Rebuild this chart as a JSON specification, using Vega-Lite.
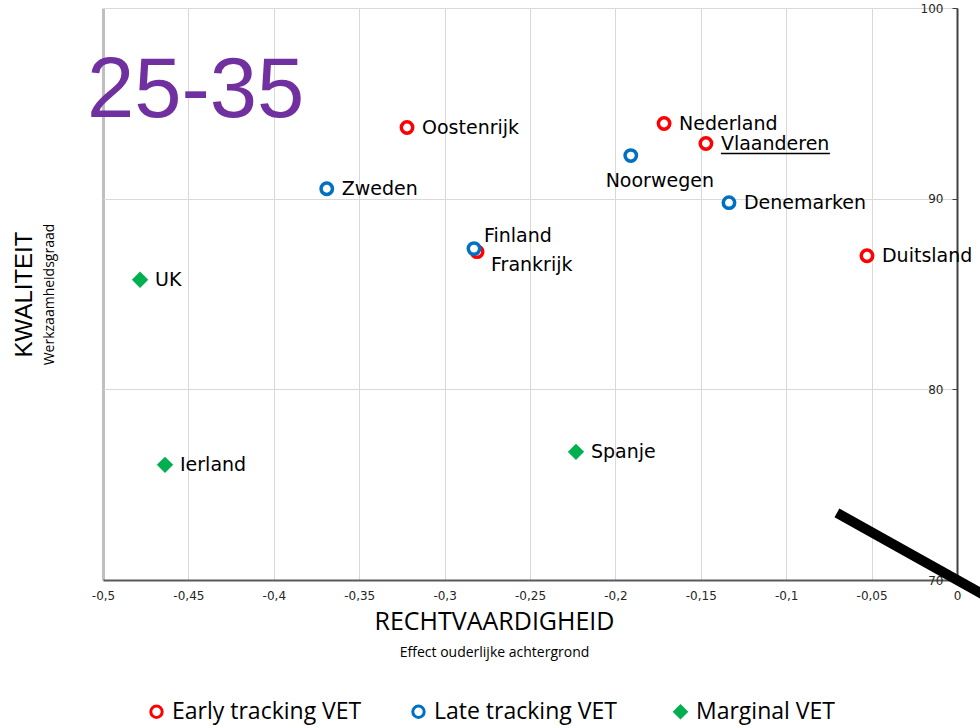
{
  "$schema": "https://vega.github.io/schema/vega-lite/v6.json",
  "width": 854,
  "height": 572,
  "autosize": {"type": "none"},
  "padding": {"left": 103, "top": 8, "right": 23, "bottom": 148},
  "background": "white",
  "config": {"view": {"stroke": null}, "font": "DejaVu Sans"},
  "title": {
    "text": "25-35",
    "font": "Liberation Sans",
    "fontSize": 85,
    "fontWeight": "normal",
    "color": "#7030A0",
    "anchor": "start",
    "frame": "group",
    "orient": "top",
    "baseline": "alphabetic",
    "offset": -200,
    "dx": -16
  },
  "datasets": {
    "countries": [
      {"country": "Oostenrijk", "group": "Early tracking VET", "x": -0.322, "y": 93.73},
      {"country": "Nederland", "group": "Early tracking VET", "x": -0.1715, "y": 93.94},
      {"country": "Vlaanderen", "group": "Early tracking VET", "x": -0.147, "y": 92.89},
      {"country": "Frankrijk", "group": "Early tracking VET", "x": -0.281, "y": 87.22},
      {"country": "Duitsland", "group": "Early tracking VET", "x": -0.0527, "y": 87.01},
      {"country": "Noorwegen", "group": "Late tracking VET", "x": -0.191, "y": 92.26},
      {"country": "Zweden", "group": "Late tracking VET", "x": -0.369, "y": 90.52},
      {"country": "Denemarken", "group": "Late tracking VET", "x": -0.1335, "y": 89.79},
      {"country": "Finland", "group": "Late tracking VET", "x": -0.2828, "y": 87.38},
      {"country": "UK", "group": "Marginal VET", "x": -0.4783, "y": 85.75},
      {"country": "Ierland", "group": "Marginal VET", "x": -0.4637, "y": 76.04},
      {"country": "Spanje", "group": "Marginal VET", "x": -0.2231, "y": 76.72}
    ],
    "arrow": [{"x1": -0.0703, "y1": 73.52, "x2": 0.0164, "y2": 69.18}]
  },
  "resolve": {"axis": {"x": "independent", "y": "independent"}},
  "layer": [
    {
      "data": {"name": "countries"},
      "mark": {"type": "point", "filled": true, "strokeWidth": 3.5, "opacity": 1},
      "encoding": {
        "x": {
          "field": "x", "type": "quantitative",
          "scale": {"domain": [-0.5, 0], "nice": false, "zero": false},
          "axis": {
            "values": [-0.5, -0.45, -0.4, -0.35, -0.3, -0.25, -0.2, -0.15, -0.1, -0.05, 0],
            "labelExpr": "replace(toString(datum.value), '.', ',')",
            "grid": true,
            "gridColor": {"condition": {"test": "datum.value == -0.5", "value": "#bfbfbf"}, "value": "#d9d9d9"},
            "gridWidth": {"condition": {"test": "datum.value == -0.5", "value": 3}, "value": 1},
            "ticks": false,
            "domainColor": "#595959",
            "domainWidth": 2,
            "labelFont": "DejaVu Sans",
            "labelFontSize": 12,
            "labelColor": "#262626",
            "labelPadding": 10,
            "labelFlush": false,
            "labelOverlap": false,
            "title": "RECHTVAARDIGHEID",
            "titleFont": "Open Sans",
            "titleFontSize": 25,
            "titleFontWeight": "normal",
            "titleColor": "#000000",
            "titleX": 391,
            "titleY": 49,
            "titleBaseline": "alphabetic"
          }
        },
        "y": {
          "field": "y", "type": "quantitative",
          "scale": {"domain": [70, 100], "nice": false, "zero": false},
          "axis": {
            "orient": "left",
            "offset": -854,
            "values": [70, 80, 90, 100],
            "grid": false,
            "domainColor": "#404040",
            "domainWidth": 2,
            "tickColor": "#404040",
            "tickSize": 5,
            "labelFont": "DejaVu Sans",
            "labelFontSize": 12,
            "labelColor": "#262626",
            "labelPadding": 9,
            "labelFlush": false,
            "title": null
          }
        },
        "stroke": {
          "field": "group", "type": "nominal",
          "scale": {"domain": ["Early tracking VET", "Late tracking VET", "Marginal VET"], "range": ["#FF0000", "#0070C0", "#00B050"]},
          "legend": {
            "orient": "none",
            "legendX": 42,
            "legendY": 692,
            "direction": "horizontal",
            "title": null,
            "columns": 3,
            "gridAlign": "all",
            "columnPadding": 44,
            "labelFont": "Open Sans",
            "labelFontSize": 23,
            "labelColor": "#000000",
            "labelOffset": 4,
            "labelLimit": 400,
            "symbolStrokeWidth": 3
          }
        },
        "fill": {
          "field": "group", "type": "nominal",
          "scale": {"domain": ["Early tracking VET", "Late tracking VET", "Marginal VET"], "range": ["#FFFFFF", "#FFFFFF", "#00B050"]}
        },
        "shape": {
          "field": "group", "type": "nominal",
          "scale": {"domain": ["Early tracking VET", "Late tracking VET", "Marginal VET"], "range": ["circle", "circle", "diamond"]}
        },
        "size": {
          "field": "group", "type": "nominal",
          "scale": {"domain": ["Early tracking VET", "Late tracking VET", "Marginal VET"], "range": [130, 130, 90]}
        }
      }
    },
    {
      "data": {"name": "countries"},
      "transform": [{"filter": "datum.country != 'Noorwegen' && datum.country != 'Finland' && datum.country != 'Frankrijk'"}],
      "mark": {"type": "text", "align": "left", "baseline": "middle", "dx": 15, "fontSize": 19, "font": "DejaVu Sans", "color": "#000000"},
      "encoding": {
        "x": {
          "field": "x", "type": "quantitative",
          "scale": {"domain": [-0.5, 0], "nice": false, "zero": false},
          "axis": {
            "orient": "bottom",
            "labels": false, "ticks": false, "domain": false, "grid": false,
            "title": "Effect ouderlijke achtergrond",
            "titleFont": "Open Sans",
            "titleFontSize": 14,
            "titleFontWeight": "normal",
            "titleColor": "#000000",
            "titleX": 391,
            "titleY": 76,
            "titleBaseline": "alphabetic"
          }
        },
        "y": {
          "field": "y", "type": "quantitative",
          "scale": {"domain": [70, 100], "nice": false, "zero": false},
          "axis": {
            "orient": "left",
            "values": [80, 90, 100],
            "labels": false, "ticks": false, "domain": false,
            "grid": true,
            "gridColor": "#d9d9d9",
            "title": "KWALITEIT",
            "titleFont": "Liberation Sans",
            "titleFontSize": 24,
            "titleFontWeight": "normal",
            "titleColor": "#000000",
            "titleX": -72,
            "titleY": 286,
            "titleBaseline": "alphabetic"
          }
        },
        "text": {"field": "country", "type": "nominal"}
      }
    },
    {
      "data": {"name": "countries"},
      "transform": [{"filter": "datum.country == 'Noorwegen'"}],
      "mark": {"type": "text", "align": "center", "baseline": "middle", "dx": 29, "dy": 25, "fontSize": 19, "font": "DejaVu Sans", "color": "#000000"},
      "encoding": {
        "x": {"field": "x", "type": "quantitative", "scale": {"domain": [-0.5, 0], "nice": false, "zero": false}, "axis": null},
        "y": {
          "field": "y", "type": "quantitative",
          "scale": {"domain": [70, 100], "nice": false, "zero": false},
          "axis": {
            "orient": "left",
            "labels": false, "ticks": false, "domain": false, "grid": false,
            "title": "Werkzaamheidsgraad",
            "titleFont": "Open Sans",
            "titleFontSize": 14,
            "titleFontWeight": "normal",
            "titleColor": "#000000",
            "titleX": -50,
            "titleY": 286,
            "titleBaseline": "alphabetic"
          }
        },
        "text": {"field": "country", "type": "nominal"}
      }
    },
    {
      "data": {"name": "countries"},
      "transform": [{"filter": "datum.country == 'Finland'"}],
      "mark": {"type": "text", "align": "left", "baseline": "middle", "dx": 10, "dy": -13, "fontSize": 19, "font": "DejaVu Sans", "color": "#000000"},
      "encoding": {
        "x": {"field": "x", "type": "quantitative", "scale": {"domain": [-0.5, 0], "nice": false, "zero": false}, "axis": null},
        "y": {"field": "y", "type": "quantitative", "scale": {"domain": [70, 100], "nice": false, "zero": false}, "axis": null},
        "text": {"field": "country", "type": "nominal"}
      }
    },
    {
      "data": {"name": "countries"},
      "transform": [{"filter": "datum.country == 'Frankrijk'"}],
      "mark": {"type": "text", "align": "left", "baseline": "middle", "dx": 14, "dy": 13, "fontSize": 19, "font": "DejaVu Sans", "color": "#000000"},
      "encoding": {
        "x": {"field": "x", "type": "quantitative", "scale": {"domain": [-0.5, 0], "nice": false, "zero": false}, "axis": null},
        "y": {"field": "y", "type": "quantitative", "scale": {"domain": [70, 100], "nice": false, "zero": false}, "axis": null},
        "text": {"field": "country", "type": "nominal"}
      }
    },
    {
      "data": {"name": "countries"},
      "transform": [{"filter": "datum.country == 'Vlaanderen'"}],
      "mark": {"type": "rule", "color": "#000000", "strokeWidth": 1.5, "xOffset": 15, "x2Offset": 124, "yOffset": 10},
      "encoding": {
        "x": {"field": "x", "type": "quantitative", "scale": {"domain": [-0.5, 0], "nice": false, "zero": false}, "axis": null},
        "x2": {"field": "x"},
        "y": {"field": "y", "type": "quantitative", "scale": {"domain": [70, 100], "nice": false, "zero": false}, "axis": null}
      }
    },
    {
      "data": {"name": "arrow"},
      "mark": {"type": "rule", "color": "#000000", "strokeWidth": 10, "strokeCap": "butt"},
      "encoding": {
        "x": {"field": "x1", "type": "quantitative", "scale": {"domain": [-0.5, 0], "nice": false, "zero": false}, "axis": null},
        "x2": {"field": "x2"},
        "y": {"field": "y1", "type": "quantitative", "scale": {"domain": [70, 100], "nice": false, "zero": false}, "axis": null},
        "y2": {"field": "y2"}
      }
    }
  ]
}
